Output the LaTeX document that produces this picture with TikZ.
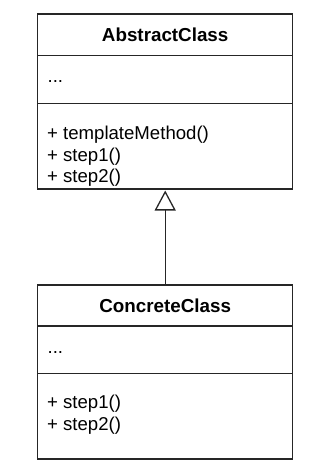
\documentclass[tikz,border=0pt]{standalone}
\usepackage{fontspec}
\setmainfont{Liberation Sans}
\usetikzlibrary{arrows.meta}
\begin{document}
\begin{tikzpicture}[x=1pt,y=-1pt, line width=1.3pt,
  box/.style={draw=black!85, minimum width=255pt, inner sep=0pt, outer sep=0pt},
  txt/.style={anchor=base west, inner sep=0pt, font=\fontsize{18.6}{22}\selectfont},
  ttl/.style={inner sep=0pt, font=\fontsize{18.8}{22}\selectfont\bfseries},
  sep/.style={draw=black!85}]
\useasboundingbox (0,0) rectangle (317,476);
% AbstractClass
\node[box, minimum height=175pt] (abs) at (165.2,101.5) {};
\draw[sep] (37.7,55.7) -- (292.7,55.7);
\draw[sep] (37.7,103.3) -- (292.7,103.3);
\node[ttl] (absT) at (165.2,35) {AbstractClass};
\node[txt] (absA) at (47,83) {...};
\node[txt] (absM1) at (46.5,139.3) {+ templateMethod()};
\node[txt] (absM2) at (46.5,161) {+ step1()};
\node[txt] (absM3) at (46.5,182.6) {+ step2()};
% ConcreteClass
\node[box, minimum height=174pt] (con) at (165.2,372) {};
\draw[sep] (37.7,326) -- (292.7,326);
\draw[sep] (37.7,373.3) -- (292.7,373.3);
\node[ttl] (conT) at (165.2,305.5) {ConcreteClass};
\node[txt] (conA) at (47,353.3) {...};
\node[txt] (conM1) at (46.5,408.7) {+ step1()};
\node[txt] (conM2) at (46.5,430.3) {+ step2()};
% generalization
\draw[draw=black!85, -{Triangle[open, length=20pt, width=21pt]}, shorten >=1.5pt] (con.north) -- (abs.south);
\end{tikzpicture}
\end{document}
